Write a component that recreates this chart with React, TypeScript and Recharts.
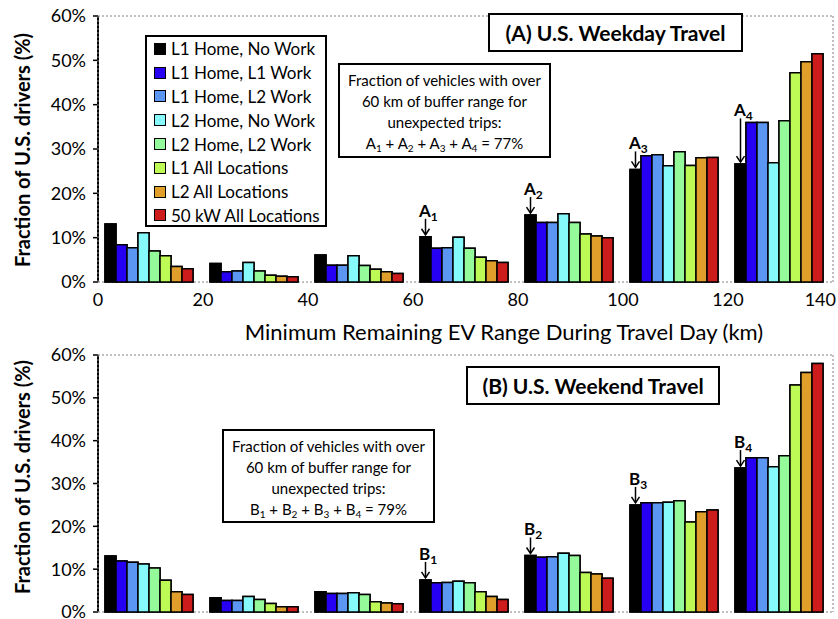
import React from "react";
import { BarChart, Bar, XAxis, YAxis, CartesianGrid, LabelList } from "recharts";

// distance bins (km of remaining range), placed at their centres
const binMid = [10, 30, 50, 70, 90, 110, 130];
const xTicks = [0, 20, 40, 60, 80, 100, 120, 140];
const yTicks = [0, 10, 20, 30, 40, 50, 60];

const seriesNames = [
  "L1 Home, No Work",
  "L1 Home, L1 Work",
  "L1 Home, L2 Work",
  "L2 Home, No Work",
  "L2 Home, L2 Work",
  "L1 All Locations",
  "L2 All Locations",
  "50 kW All Locations",
];
const seriesColors = ["#000000", "#2600f2", "#5b96f2", "#86fafa", "#94fa9a", "#befa55", "#e09e2a", "#cc1c1c"];

// (A) weekday travel, % of drivers
const wkdL1HomeNoWork = [13.1, 4.2, 6.1, 10.2, 15.1, 25.4, 26.6];
const wkdL1HomeL1Work = [8.4, 2.3, 3.8, 7.6, 13.4, 28.5, 36.0];
const wkdL1HomeL2Work = [7.7, 2.5, 3.8, 7.7, 13.4, 28.7, 36.0];
const wkdL2HomeNoWork = [11.1, 4.4, 5.9, 10.1, 15.4, 26.2, 26.9];
const wkdL2HomeL2Work = [7.0, 2.5, 3.7, 7.6, 13.4, 29.4, 36.4];
const wkdL1All = [5.9, 1.5, 2.9, 5.6, 10.8, 26.3, 47.2];
const wkdL2All = [3.5, 1.3, 2.3, 4.8, 10.4, 28.0, 49.7];
const wkd50kW = [3.0, 1.2, 1.9, 4.4, 10.0, 28.1, 51.5];

// (B) weekend travel, % of drivers
const wkeL1HomeNoWork = [13.1, 3.3, 4.7, 7.5, 13.2, 25.0, 33.6];
const wkeL1HomeL1Work = [11.9, 2.7, 4.3, 6.8, 12.8, 25.5, 36.0];
const wkeL1HomeL2Work = [11.6, 2.7, 4.3, 6.9, 12.9, 25.5, 36.0];
const wkeL2HomeNoWork = [11.2, 3.6, 4.5, 7.2, 13.7, 25.6, 33.9];
const wkeL2HomeL2Work = [10.3, 2.9, 4.1, 6.8, 13.2, 26.0, 36.5];
const wkeL1All = [7.4, 2.0, 2.4, 4.7, 9.2, 21.0, 53.0];
const wkeL2All = [4.7, 1.2, 2.1, 3.6, 8.9, 23.4, 55.9];
const wke50kW = [4.1, 1.2, 1.9, 2.9, 7.9, 23.8, 58.0];

const weekday = [wkdL1HomeNoWork, wkdL1HomeL1Work, wkdL1HomeL2Work, wkdL2HomeNoWork, wkdL2HomeL2Work, wkdL1All, wkdL2All, wkd50kW];
const weekend = [wkeL1HomeNoWork, wkeL1HomeL1Work, wkeL1HomeL2Work, wkeL2HomeNoWork, wkeL2HomeL2Work, wkeL1All, wkeL2All, wke50kW];

const keys = seriesNames.map((_, i) => "s" + i);

const toRows = (series: number[][]) =>
  binMid.map((mid, i) => {
    const row: any = { mid };
    series.forEach((arr, s) => (row[keys[s]] = arr[i]));
    return row;
  });

const FONT = "Lato, 'Open Sans', sans-serif";

// A1..A4 / B1..B4 arrows on the black bars of the last four bins
const makeMarker = (letter: string, next: number[]) => (props: any) => {
  const { x, y, width, height, value, index } = props;
  if (index < 3 || !value) return null;
  const base = y + height;
  const perUnit = height / value;
  const nextTop = base - next[index] * perUnit;
  const top = Math.min(y - 18, nextTop - 4);
  const cx = x + width / 2;
  return (
    <g key={"m" + index}>
      <text x={x - 1} y={top - 2} fontSize={17} fontWeight="bold" fill="#000" fontFamily={FONT}>
        {letter}
        <tspan fontSize={12} dy={4}>
          {index - 2}
        </tspan>
      </text>
      <line x1={cx} y1={top} x2={cx} y2={y - 2} stroke="#000" strokeWidth={1.5} />
      <polyline points={`${cx - 4},${y - 8} ${cx},${y - 2} ${cx + 4},${y - 8}`} fill="none" stroke="#000" strokeWidth={1.5} />
    </g>
  );
};

const makeXTick = (show: boolean) => (p: any) => {
  if (!show) return <g />;
  const last = p.payload.value === 140;
  return (
    <text x={last ? p.x + 3 : p.x} y={p.y} dy="0.8em" textAnchor={last ? "end" : "middle"} fontSize={18} fill="#000">
      {p.payload.value}
    </text>
  );
};

type PanelProps = { series: number[][]; letter: string; height: number; top: number; bottom: number; showX: boolean };

// overlay chart: dotted grid with the bars drawn again on top of it
function GridPanel({ series, height, top, bottom, showX }: PanelProps) {
  const rows = toRows(series);
  return (
    <BarChart width={838} height={height} data={rows} margin={{ top, right: 5, left: 38, bottom }} barCategoryGap={7} barGap={0}>
      <CartesianGrid stroke="#808080" strokeDasharray="2 2" />
      <XAxis dataKey="mid" type="number" domain={[0, 140]} ticks={xTicks} interval={0} allowDataOverflow tick={false} axisLine={false} tickLine={false} height={showX ? 30 : 0} />
      <YAxis domain={[0, 60]} ticks={yTicks} interval={0} width={60} tick={false} axisLine={false} tickLine={false} />
      {keys.map((k, i) => (
        <Bar key={k} dataKey={k} fill={seriesColors[i]} stroke="#000" strokeWidth={1.5} isAnimationActive={false} />
      ))}
    </BarChart>
  );
}

function Panel({ series, letter, height, top, bottom, showX }: PanelProps) {
  const rows = toRows(series);
  return (
    <BarChart
      width={838}
      height={height}
      data={rows}
      margin={{ top, right: 5, left: 38, bottom }}
      barCategoryGap={7}
      barGap={0}
    >
      <XAxis
        dataKey="mid"
        type="number"
        domain={[0, 140]}
        ticks={xTicks}
        interval={0}
        allowDataOverflow
        axisLine={false}
        tickLine={false}
        tick={makeXTick(showX)}
        tickMargin={4}
        height={showX ? 30 : 0}
      />
      <YAxis
        domain={[0, 60]}
        ticks={yTicks}
        interval={0}
        width={60}
        tickFormatter={(v: number) => `${v}%`}
        tick={{ fill: "#000", fontSize: 18 }}
        axisLine={{ stroke: "#000", strokeWidth: 2 }}
        tickLine={{ stroke: "#000", strokeWidth: 1.5 }}
        tickSize={5}
        tickMargin={7}
      />
      {keys.map((k, i) => (
        <Bar
          key={k}
          dataKey={k}
          name={seriesNames[i]}
          fill={seriesColors[i]}
          stroke="#000"
          strokeWidth={1.5}
          isAnimationActive={false}
        >
          {i === 0 && <LabelList dataKey={k} content={makeMarker(letter, series[1])} />}
        </Bar>
      ))}
    </BarChart>
  );
}

const boxStyle: React.CSSProperties = {
  position: "absolute",
  background: "#fff",
  border: "2px solid #000",
  boxSizing: "border-box",
};

const sub = (d: string) => <sub style={{ fontSize: 10, verticalAlign: "-3px" }}>{d}</sub>;

function YLabel({ cy }: { cy: number }) {
  return (
    <div
      style={{
        position: "absolute",
        left: 22 - 160,
        top: cy - 13,
        width: 320,
        height: 26,
        lineHeight: "26px",
        textAlign: "center",
        fontWeight: "bold",
        fontSize: 20,
        transform: "rotate(-90deg)",
      }}
    >
      Fraction of U.S. drivers (%)
    </div>
  );
}

export default function App() {
  const top = { series: weekday, letter: "A", height: 312, top: 16, bottom: 0, showX: true };
  const bot = { series: weekend, letter: "B", height: 289, top: 25, bottom: 7, showX: false };
  return (
    <div style={{ position: "absolute", left: 0, top: 0, width: 838, height: 619, fontFamily: FONT, color: "#000" }}>
      <div style={{ position: "absolute", left: 0, top: 0 }}>
        <Panel {...top} />
      </div>
      <div style={{ position: "absolute", left: 0, top: 0, pointerEvents: "none" }}>
        <GridPanel {...top} />
      </div>
      <div style={{ position: "absolute", left: 0, top: 330 }}>
        <Panel {...bot} />
      </div>
      <div style={{ position: "absolute", left: 0, top: 330, pointerEvents: "none" }}>
        <GridPanel {...bot} />
      </div>

      <YLabel cy={150} />
      <YLabel cy={477} />

      <div style={{ position: "absolute", left: 200, width: 608, top: 318, textAlign: "center", fontSize: 22 }}>
        Minimum Remaining EV Range During Travel Day (km)
      </div>

      {/* legend */}
      <div style={{ ...boxStyle, left: 145, top: 35, width: 182, height: 192, padding: "0 0 0 7px" }}>
        {seriesNames.map((n, i) => (
          <div key={n} style={{ height: 23.8, display: "flex", alignItems: "center", fontSize: 17 }}>
            <span style={{ width: 10, height: 10, background: seriesColors[i], border: "1.5px solid #000", marginRight: 5 }} />
            {n}
          </div>
        ))}
      </div>

      {/* titles */}
      <div style={{ ...boxStyle, left: 488, top: 13, width: 255, height: 39, fontWeight: "bold", fontSize: 21, textAlign: "center", lineHeight: "35px" }}>
        (A) U.S. Weekday Travel
      </div>
      <div style={{ ...boxStyle, left: 466, top: 366, width: 254, height: 39, fontWeight: "bold", fontSize: 21, textAlign: "center", lineHeight: "35px" }}>
        (B) U.S. Weekend Travel
      </div>

      {/* buffer-range notes */}
      <div style={{ ...boxStyle, left: 338, top: 63, width: 213, height: 95, fontSize: 15, textAlign: "center", lineHeight: "21px", paddingTop: 5 }}>
        Fraction of vehicles with over<br />60 km of buffer range for<br />unexpected trips:<br />
        A{sub("1")} + A{sub("2")} + A{sub("3")} + A{sub("4")} = 77%
      </div>
      <div style={{ ...boxStyle, left: 222, top: 429, width: 213, height: 94, fontSize: 15, textAlign: "center", lineHeight: "21px", paddingTop: 5 }}>
        Fraction of vehicles with over<br />60 km of buffer range for<br />unexpected trips:<br />
        B{sub("1")} + B{sub("2")} + B{sub("3")} + B{sub("4")} = 79%
      </div>
    </div>
  );
}
